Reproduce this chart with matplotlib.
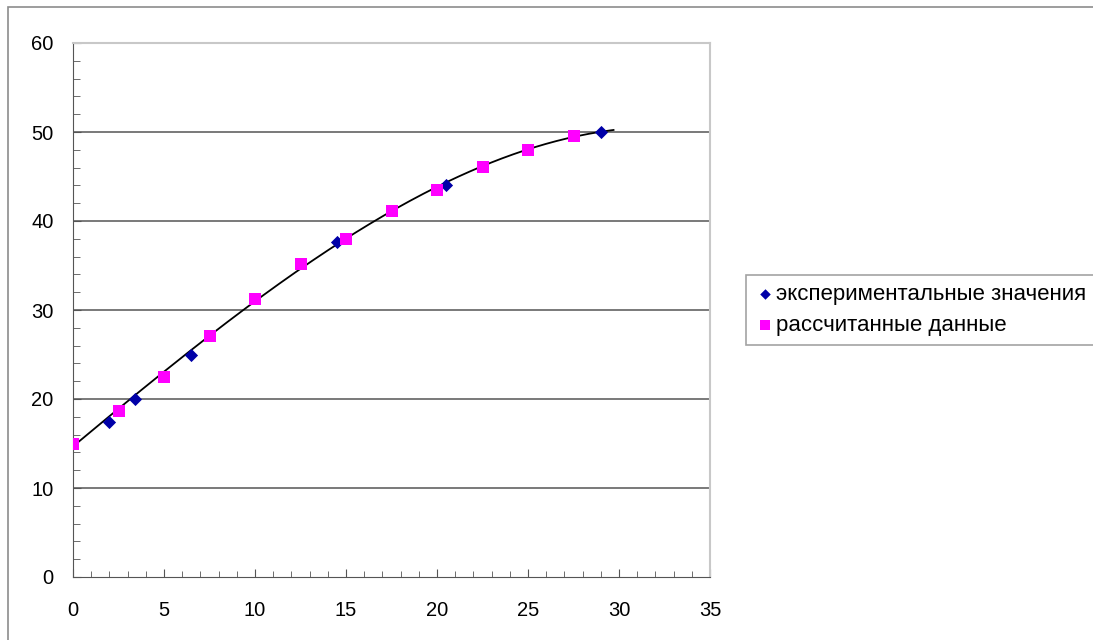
import numpy as np
import matplotlib
matplotlib.use("Agg")
import matplotlib.pyplot as plt
from matplotlib.patches import Rectangle
from matplotlib.ticker import MultipleLocator

plt.rcParams['font.family'] = ['Liberation Sans', 'DejaVu Sans']

# experimental points
exp_x = [2.0, 3.4, 6.5, 14.5, 20.5, 29.0]
exp_y = [17.4, 20.0, 25.0, 37.6, 44.1, 50.0]

# calculated points
calc_x = [0, 2.5, 5, 7.5, 10, 12.5, 15, 17.5, 20, 22.5, 25, 27.5]
calc_y = [15.0, 18.7, 22.5, 27.1, 31.2, 35.2, 38.0, 41.1, 43.5, 46.1, 48.0, 49.6]

legend_labels = ['экспериментальные значения', 'рассчитанные данные']
x_ticks = [0, 5, 10, 15, 20, 25, 30, 35]
y_ticks = [0, 10, 20, 30, 40, 50, 60]

fig = plt.figure(figsize=(10.93, 6.40), dpi=100)
ax = fig.add_axes([73 / 1093, 1 - 577 / 640, 637 / 1093, 534 / 640])

# outer frame of the chart area
fig.patches.append(Rectangle((8 / 1093, -0.1), 1.2, 1 - 7 / 640 + 0.1,
                             transform=fig.transFigure, fill=False,
                             edgecolor='#8c8c8c', linewidth=1.2))

# cubic trend through the calculated data
coef = np.polyfit(calc_x, calc_y, 3)
tx = np.linspace(0, 29.7, 200)
ax.plot(tx, np.polyval(coef, tx), color='black', linewidth=1.3, zorder=3)

ax.scatter(exp_x, exp_y, marker='D', s=45, color='#0000a8', zorder=4,
           label=legend_labels[0], linewidths=0)
ax.scatter(calc_x, calc_y, marker='s', s=80, color='#ff00ff', zorder=5,
           label=legend_labels[1], linewidths=0)

ax.set_xlim(0, 35)
ax.set_ylim(0, 60)
ax.set_xticks(x_ticks)
ax.set_yticks(y_ticks)
ax.xaxis.set_minor_locator(MultipleLocator(1))
ax.yaxis.set_minor_locator(MultipleLocator(2))

for y in y_ticks[1:-1]:
    ax.axhline(y, color='#555555', linewidth=1.1, zorder=1)

ax.spines['top'].set_color('#c8c8c8')
ax.spines['right'].set_color('#c8c8c8')
ax.spines['top'].set_linewidth(1.5)
ax.spines['right'].set_linewidth(1.5)
ax.spines['left'].set_color('#555555')
ax.spines['bottom'].set_color('#555555')

ax.tick_params(axis='both', which='both', direction='in', colors='#555555',
               labelcolor='black', labelsize=14.5)
ax.tick_params(axis='y', which='major', length=6, pad=14)
ax.tick_params(axis='y', which='minor', length=5)
ax.tick_params(axis='x', which='major', length=6, pad=17)
ax.tick_params(axis='x', which='minor', length=4)

leg = fig.legend(loc='upper left', bbox_to_anchor=(746 / 1093, 1 - 275 / 640),
                 frameon=True, fancybox=False, fontsize=16, handletextpad=0.05,
                 handlelength=0.9, borderpad=0.4, labelspacing=0.45,
                 borderaxespad=0, markerscale=0.8)
leg.get_frame().set_edgecolor('#8c8c8c')
leg.get_frame().set_linewidth(1.2)

fig.savefig('out.png', dpi=100)
